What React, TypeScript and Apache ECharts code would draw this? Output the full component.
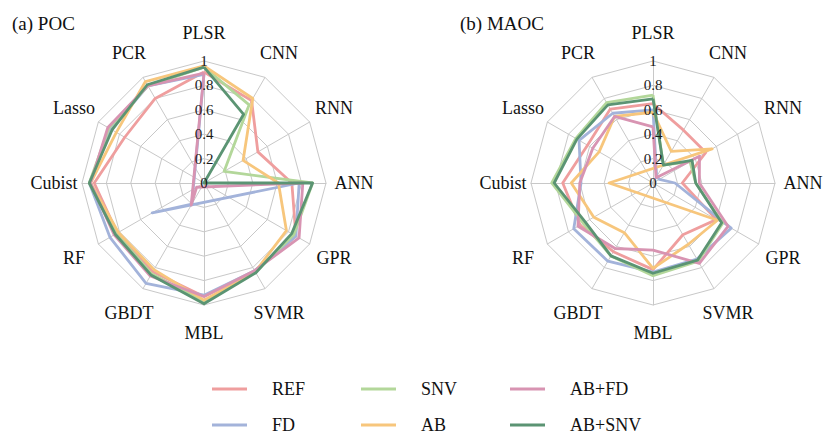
import React, { useEffect, useRef } from 'react';
import * as echarts from 'echarts';

// Axes of each radar, clockwise from the top
const models = ['PLSR', 'CNN', 'RNN', 'ANN', 'GPR', 'SVMR', 'MBL', 'GBDT', 'RF', 'Cubist', 'Lasso', 'PCR'];
const seriesNames = ['REF', 'FD', 'SNV', 'AB', 'AB+FD', 'AB+SNV'];
const tickLabels = ['0', '0.2', '0.4', '0.6', '0.8', '1'];

// (a) POC — values in the same clockwise order as `models`
const pocREF = [0.91, 0.78, 0.51, 0.72, 0.87, 0.83, 0.93, 0.84, 0.82, 0.9, 0.75, 0.8];
const pocFD = [0.89, -0.2, -0.49, 0.78, 0.87, 0.83, 0.92, 0.95, 0.89, 0.94, 0.88, 0.92];
const pocSNV = [0.95, 0.74, 0.19, 0.89, 0.85, 0.84, 0.97, 0.86, 0.83, 0.94, 0.9, 0.92];
const pocAB = [0.96, 0.8, 0.37, 0.61, 0.78, 0.84, 0.96, 0.82, 0.81, 0.93, 0.83, 0.96];
const pocABFD = [0.9, -0.21, -0.07, 0.81, 0.9, 0.83, 0.93, 0.88, 0.85, 0.93, 0.91, 0.92];
const pocABSNV = [0.95, 0.65, 0.0, 0.89, 0.83, 0.85, 0.99, 0.87, 0.84, 0.94, 0.87, 0.93];

// (b) MAOC
const maocREF = [0.65, 0.5, 0.5, 0.24, 0.6, 0.49, 0.71, 0.65, 0.69, 0.74, 0.62, 0.7];
const maocFD = [0.6, 0.06, 0.06, 0.18, 0.74, 0.72, 0.73, 0.74, 0.75, 0.59, 0.7, 0.66];
const maocSNV = [0.72, 0.17, 0.35, 0.35, 0.66, 0.74, 0.76, 0.69, 0.66, 0.83, 0.73, 0.76];
const maocAB = [0.58, 0.3, 0.56, -0.36, 0.61, 0.58, 0.7, 0.47, 0.56, 0.67, 0.51, 0.63];
const maocABFD = [0.46, 0.05, 0.44, 0.38, 0.71, 0.76, 0.55, 0.62, 0.71, 0.6, 0.57, 0.63];
const maocABSNV = [0.69, 0.17, 0.37, 0.35, 0.65, 0.73, 0.74, 0.69, 0.64, 0.81, 0.72, 0.74];

const pocData = [pocREF, pocFD, pocSNV, pocAB, pocABFD, pocABSNV];
const maocData = [maocREF, maocFD, maocSNV, maocAB, maocABFD, maocABSNV];

const COLORS = ['#EF9E9E', '#A3B3DA', '#B3D79A', '#F7C67C', '#D894B2', '#5B9473'];
const FONT = 'Liberation Serif';

// ECharts places indicators counter-clockwise; reorder so the picture reads clockwise
const ccw = <T,>(arr: T[]): T[] => [arr[0], ...arr.slice(1).reverse()];

const tickLabelStyle = {
  show: true,
  margin: 0,
  align: 'center',
  verticalAlign: 'middle',
  color: '#1a1a1a',
  fontFamily: FONT,
  fontSize: 15,
  formatter: (v: number) => tickLabels[Math.round(v * 5)] ?? String(v),
};

// Base radar: grid, spokes and axis names
function makeRadar(cx: number) {
  return {
    center: [cx, 183],
    radius: 122,
    startAngle: 90,
    shape: 'polygon',
    splitNumber: 5,
    z: 1,
    indicator: ccw(models).map((name) => ({ name, min: 0, max: 1 })),
    axisName: {
      color: '#111',
      fontFamily: FONT,
      fontSize: 18,
      align: 'center',
      verticalAlign: 'middle',
    },
    nameGap: 28,
    axisLine: { show: true, lineStyle: { color: '#c8c8c8', width: 1 } },
    splitLine: { show: true, lineStyle: { color: '#c8c8c8', width: 1 } },
    splitArea: { show: false },
    axisTick: { show: false },
    axisLabel: { show: false },
  };
}

// Overlay radar drawn above the lines: only the PLSR axis tick labels
function makeLabelRadar(cx: number) {
  return {
    center: [cx, 183],
    radius: 122,
    startAngle: 90,
    shape: 'polygon',
    splitNumber: 5,
    z: 10,
    indicator: ccw(models).map((name, i) => {
      const ind: any = { name, min: 0, max: 1 };
      if (i === 0) ind.axisLabel = tickLabelStyle;
      return ind;
    }),
    axisName: { show: false },
    axisLine: { show: false },
    splitLine: { show: false },
    splitArea: { show: false },
    axisTick: { show: false },
    axisLabel: { show: false },
  };
}

function makeSeries(radarIndex: number, data: number[][]) {
  return {
    type: 'radar',
    radarIndex,
    symbol: 'none',
    silent: true,
    z: 2,
    data: seriesNames.map((name, i) => ({
      name,
      value: ccw(data[i]),
      lineStyle: { color: COLORS[i], width: 2.8 },
      itemStyle: { color: COLORS[i] },
    })),
  };
}

export default function App() {
  const ref = useRef<HTMLDivElement>(null);
  useEffect(() => {
    if (!ref.current) return;
    const chart = echarts.init(ref.current, undefined, { renderer: 'svg' });
    const titleStyle = { fontFamily: FONT, fontSize: 19, fontWeight: 'normal' as const, color: '#111' };
    chart.setOption({
      animation: false,
      backgroundColor: '#ffffff',
      color: COLORS,
      textStyle: { fontFamily: FONT },
      title: [
        { text: '(a) POC', left: 7, top: 9, textStyle: titleStyle },
        { text: '(b) MAOC', left: 455, top: 9, textStyle: titleStyle },
      ],
      legend: [0, 1, 2].map((col) => ({
        orient: 'vertical',
        left: 212 + col * 149,
        top: 380,
        height: 60,
        padding: 0,
        icon: 'rect',
        itemWidth: 35,
        itemHeight: 3,
        itemGap: 18,
        data: [seriesNames[col * 2], seriesNames[col * 2 + 1]],
        textStyle: { fontFamily: FONT, fontSize: 18, lineHeight: 18, color: '#111', padding: [0, 0, 0, 20] },
      })),
      radar: [makeRadar(204), makeRadar(653), makeLabelRadar(204), makeLabelRadar(653)],
      series: [makeSeries(0, pocData), makeSeries(1, maocData)],
    });
    return () => chart.dispose();
  }, []);
  return (
    <div
      ref={ref}
      style={{ position: 'fixed', left: 0, top: 0, width: 823, height: 434, background: '#fff' }}
    />
  );
}
